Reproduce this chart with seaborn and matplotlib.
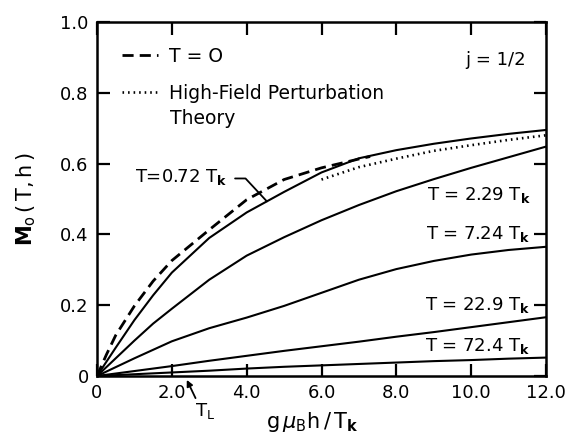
import numpy as np
import pandas as pd
import matplotlib
matplotlib.use("Agg")
import matplotlib.pyplot as plt
import seaborn as sns

# Reduced field g*mu_B*h / T_k and impurity magnetization M_0(T, h) for j = 1/2
h_grid = [0.0, 0.5, 1.0, 1.5, 2.0, 3.0, 4.0, 5.0, 6.0, 7.0, 8.0, 9.0, 10.0, 11.0, 12.0]

m_t072 = [0.0, 0.080, 0.158, 0.228, 0.292, 0.390, 0.462, 0.520, 0.575, 0.615, 0.638, 0.656, 0.671, 0.684, 0.695]
m_t229 = [0.0, 0.050, 0.100, 0.148, 0.190, 0.272, 0.340, 0.392, 0.440, 0.483, 0.522, 0.556, 0.588, 0.618, 0.648]
m_t724 = [0.0, 0.025, 0.050, 0.074, 0.098, 0.135, 0.165, 0.198, 0.235, 0.272, 0.302, 0.325, 0.343, 0.356, 0.365]
m_t229x = [0.0, 0.007, 0.014, 0.021, 0.028, 0.043, 0.057, 0.071, 0.084, 0.097, 0.111, 0.124, 0.138, 0.152, 0.166]
m_t724x = [0.0, 0.0025, 0.005, 0.0075, 0.010, 0.015, 0.021, 0.026, 0.030, 0.034, 0.038, 0.042, 0.045, 0.049, 0.052]

temp_labels = ["T=0.72 T$_\\mathbf{k}$", "T = 2.29 T$_\\mathbf{k}$", "T = 7.24 T$_\\mathbf{k}$",
               "T = 22.9 T$_\\mathbf{k}$", "T = 72.4 T$_\\mathbf{k}$"]

# T = 0 curve (dashed)
h_zero = [0.0, 0.25, 0.5, 1.0, 1.5, 2.0, 3.0, 4.0, 5.0, 6.0, 7.0, 7.3]
m_zero = [0.0, 0.060, 0.115, 0.198, 0.268, 0.326, 0.413, 0.498, 0.555, 0.588, 0.613, 0.620]

# High-field perturbation theory (dotted)
h_pert = [6.0, 7.0, 8.0, 9.0, 10.0, 11.0, 12.0]
m_pert = [0.555, 0.590, 0.614, 0.636, 0.652, 0.667, 0.680]

x_ticks = [0, 2, 4, 6, 8, 10, 12]
x_ticklabels = ["0", "2.0", "4.0", "6.0", "8.0", "10.0", "12.0"]
y_ticks = [0, 0.2, 0.4, 0.6, 0.8, 1.0]
y_ticklabels = ["0", "0.2", "0.4", "0.6", "0.8", "1.0"]

sns.set_style("ticks")
plt.rcParams["font.family"] = ["DejaVu Sans"]
plt.rcParams["mathtext.fontset"] = "dejavusans"
plt.rcParams["text.color"] = "black"
plt.rcParams["axes.labelcolor"] = "black"
plt.rcParams["xtick.color"] = "black"
plt.rcParams["ytick.color"] = "black"

series = [m_t072, m_t229, m_t724, m_t229x, m_t724x]
df = pd.DataFrame({
    "h": np.tile(h_grid, len(series)),
    "M": np.concatenate(series),
    "T": np.repeat(temp_labels, len(h_grid)),
})

fig = plt.figure(figsize=(5.76, 4.44), dpi=100)
ax = fig.add_axes([97 / 576, 68 / 444, 449 / 576, 354 / 444])

sns.lineplot(data=df, x="h", y="M", units="T", estimator=None, sort=False,
             color="black", lw=1.5, ax=ax, legend=False)

sns.lineplot(x=h_zero, y=m_zero, color="black", lw=2.0, ax=ax, legend=False)
zero_line = ax.lines[-1]
zero_line.set_dashes((4, 2.2))

sns.lineplot(x=h_pert, y=m_pert, color="black", lw=1.9, ax=ax, legend=False)
pert_line = ax.lines[-1]
pert_line.set_dashes((0.6, 1.5))

ax.set_xlim(0, 12)
ax.set_ylim(0, 1.0)
ax.set_xticks(x_ticks)
ax.set_xticklabels(x_ticklabels)
ax.set_yticks(y_ticks)
ax.set_yticklabels(y_ticklabels)
ax.tick_params(direction="in", length=9, width=1.6, top=True, right=True,
               labelsize=13, pad=6, colors="black")
for sp in ax.spines.values():
    sp.set_visible(True)
    sp.set_linewidth(1.8)
    sp.set_color("black")

ax.set_xlabel(r"$\mathsf{g}\,\mu_{\mathsf{B}}\mathsf{h}\,/\,\mathsf{T}_{\mathbf{k}}$",
              fontsize=15, labelpad=8)
ax.xaxis.set_label_coords(0.48, -0.095)
ax.set_ylabel(r"$\mathbf{M}_{\mathsf{o}}\,\mathsf{(\,T,h\,)}$", fontsize=15, labelpad=16)

# legend
leg = ax.legend([zero_line, pert_line], ["T = O", "High-Field Perturbation"],
                loc="upper left", bbox_to_anchor=(0.055, 0.93), borderaxespad=0,
                borderpad=0, frameon=False, fontsize=13.5, handlelength=1.95,
                handletextpad=0.55, labelspacing=0.95)
ax.text(0.163, 0.712, "Theory", transform=ax.transAxes, fontsize=13.5,
        ha="left", va="baseline")

ax.text(9.84, 0.893, "j = 1/2", fontsize=13, ha="left", va="center")

# curve labels
label_x = 11.58
label_y = {temp_labels[1]: 0.511, temp_labels[2]: 0.400,
           temp_labels[3]: 0.200, temp_labels[4]: 0.085}
for lab, yv in label_y.items():
    ax.text(label_x, yv, lab, fontsize=13, ha="right", va="center")

ax.text(1.02, 0.563, temp_labels[0], fontsize=13, ha="left", va="center")
h_hit = 4.54
ax.annotate("", xy=(h_hit, np.interp(h_hit, h_grid, m_t072)), xytext=(3.69, 0.558),
            arrowprops=dict(arrowstyle="-", lw=1.3, color="black",
                            connectionstyle="angle,angleA=0,angleB=133,rad=0",
                            shrinkA=0, shrinkB=0))

ax.annotate("T$_\\mathsf{L}$", xy=(2.40, -0.011), xytext=(2.89, -0.10),
            fontsize=13, ha="center", va="center", annotation_clip=False,
            arrowprops=dict(arrowstyle="-|>", lw=1.3, color="black",
                            mutation_scale=9, shrinkA=0, shrinkB=0,
                            relpos=(0.1, 1.0)))

fig.savefig("out.png", dpi=100)
